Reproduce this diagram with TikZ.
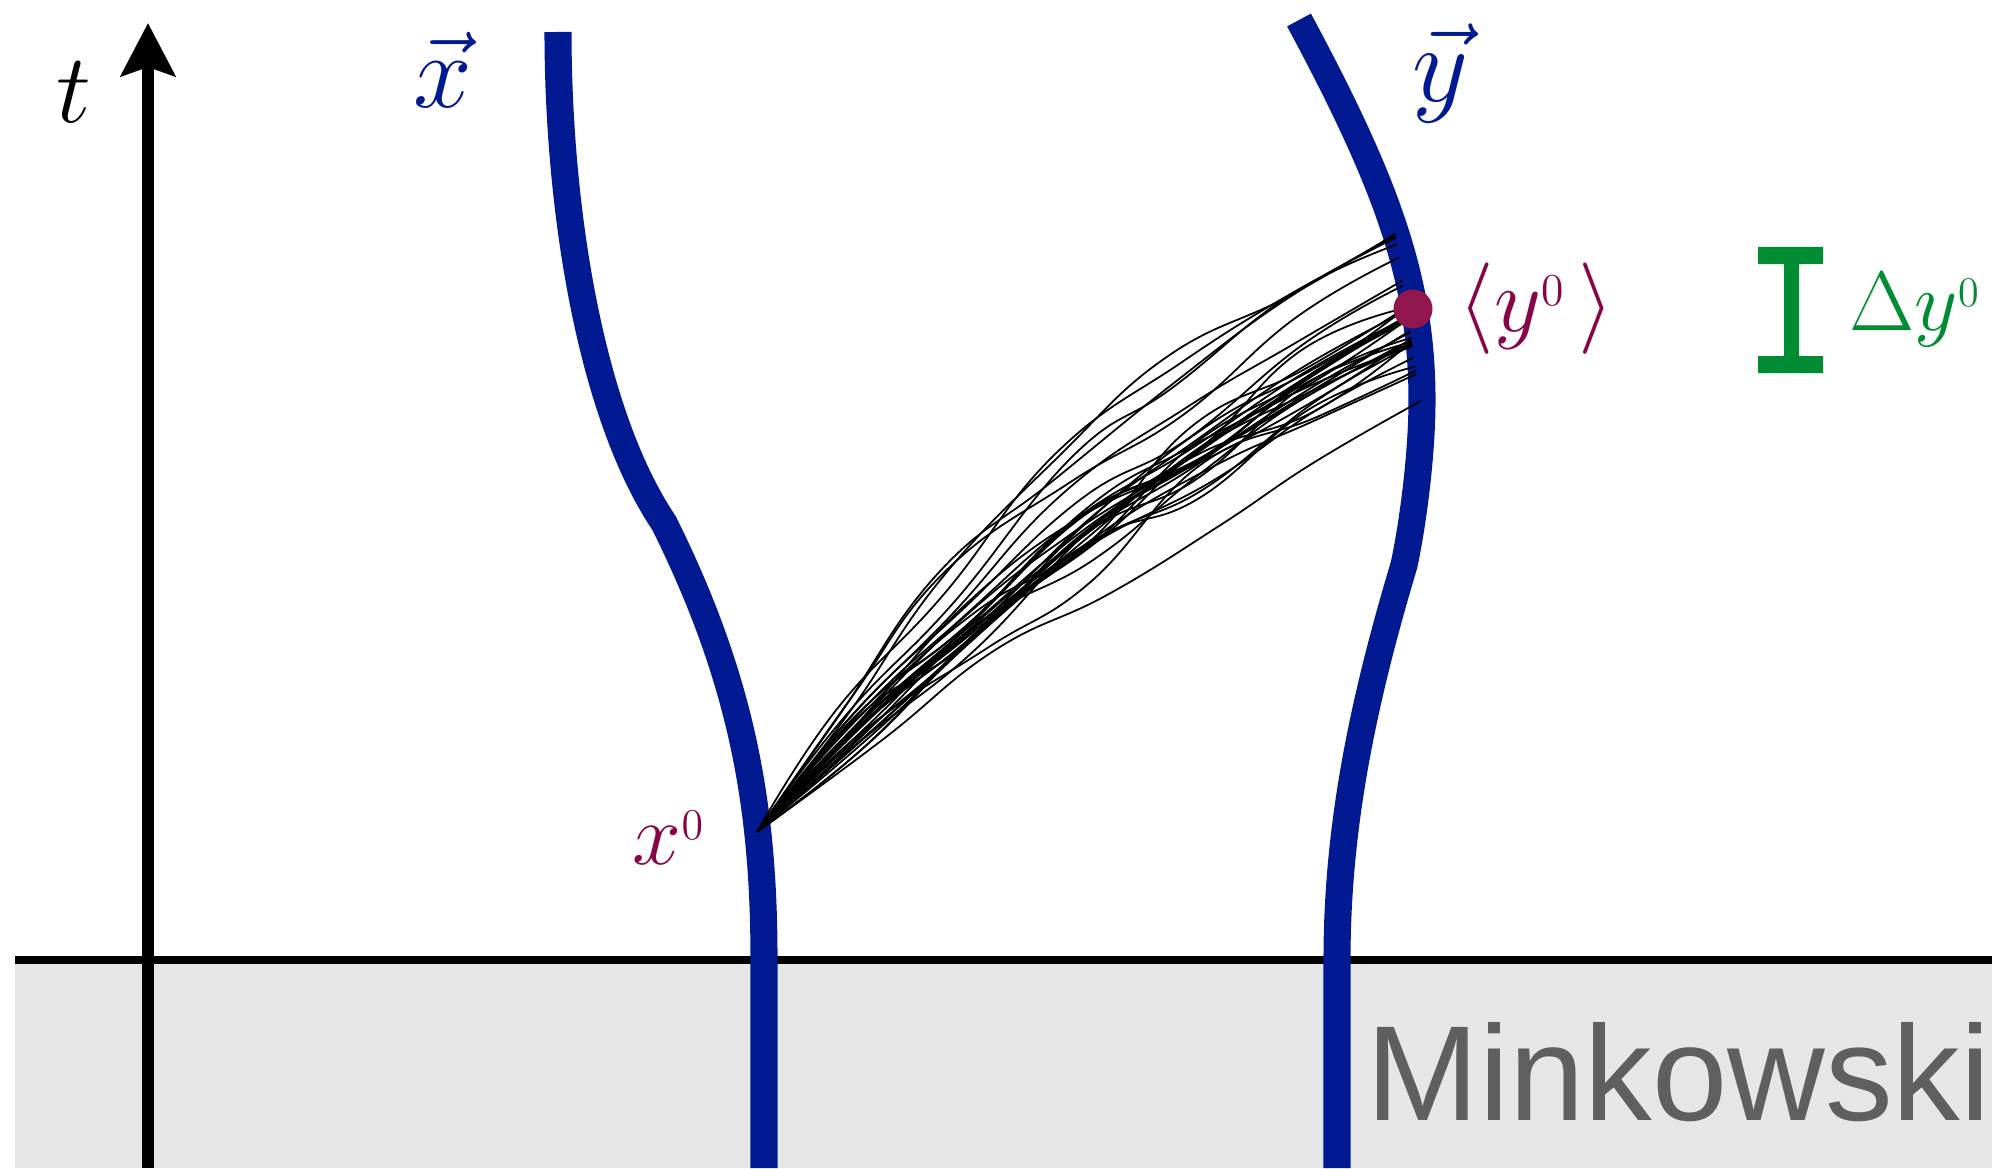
\RequirePackage{fix-cm}
\documentclass[tikz,border=0pt]{standalone}
\usepackage[no-math]{fontspec}
\usepackage{tikz}
\usetikzlibrary{arrows.meta, positioning}
\usepackage{xcolor}
\usepackage{amsmath}
\newfontfamily\minkfont{Liberation Sans}
\definecolor{wlblue}{RGB}{2,26,145}
\definecolor{avgred}{RGB}{146,22,78}
\definecolor{lblred}{RGB}{135,5,70}
\definecolor{dygreen}{RGB}{0,140,50}
\definecolor{minkfill}{RGB}{230,230,230}
\definecolor{minktext}{RGB}{95,95,95}
\newcommand{\lowsup}[1]{\raisebox{0.28em}{$\scriptscriptstyle #1$}}
\tikzstyle{worldline} = [line width=7.7pt, wlblue]
\tikzstyle{timeaxis}  = [line width=3.6pt, -{Stealth[length=5.3mm, width=5.4mm, inset=0.9mm]}]
\tikzstyle{boundary}  = [line width=2.1pt]
\tikzstyle{geodesic}  = [line width=0.5pt, black]
\tikzstyle{lbl}       = [inner sep=0pt, anchor=base west]

\begin{document}
\begin{tikzpicture}

\useasboundingbox (0,0) rectangle (20,11.68);

\fill[minkfill] (0.15,0) rectangle (19.92,2.08);
\coordinate (bleft)  at (0.15,2.08);
\coordinate (bright) at (19.92,2.08);
\draw[boundary] (bleft) -- (bright);

\coordinate (tbase) at (1.48,0);
\coordinate (ttip)  at (1.48,11.45);
\draw[timeaxis] (tbase) -- (ttip);

\draw[worldline] (5.58,11.36) .. controls (5.58,9.6) and (5.9,7.55) .. (6.64,6.45)
  .. controls (7.43,4.86) and (7.64,3.6) .. (7.64,2.08) -- (7.64,0);
\draw[worldline] (12.99,11.48) .. controls (13.85,9.88) and (14.22,8.9) .. (14.22,7.68)
  .. controls (14.22,7.1) and (14.12,6.4) .. (14.04,6.03)
  .. controls (13.62,4.63) and (13.37,3.4) .. (13.37,2.08) -- (13.37,0);

\coordinate (x0) at (7.57,3.36);
\pgfmathsetseed{42}
\foreach \k in {1,...,34}{
  \pgfmathsetmacro{\ye}{mod(\k,2)==0 ? 8.55+0.35*rand : 8.5+0.9*rand}
  \pgfmathsetmacro{\xe}{14.08-0.15*(\ye-8.5)}
  \pgfmathsetmacro{\aout}{49+12*(\ye-8.5)/0.9+4*rand}
  \pgfmathsetmacro{\ain}{25+5*rand}
  \pgfmathsetmacro{\xa}{7.57+3*cos(\aout)}
  \pgfmathsetmacro{\ya}{3.36+3*sin(\aout)}
  \pgfmathsetmacro{\xb}{\xe-2.2*cos(\ain)}
  \pgfmathsetmacro{\yb}{\ye-2.2*sin(\ain)}
  \draw[geodesic] plot[smooth, tension=0.75, variable=\t, samples=7, domain=0:1]
    ({(1-\t)^3*7.57+3*(1-\t)^2*\t*\xa+3*(1-\t)*\t^2*\xb+\t^3*\xe+0.1*rand*sin(180*\t)},
     {(1-\t)^3*3.36+3*(1-\t)^2*\t*\ya+3*(1-\t)*\t^2*\yb+\t^3*\ye+0.26*rand*sin(180*\t)});
}

\node[circle, fill=avgred, minimum size=3.9mm, inner sep=0pt] (ydot) at (14.13,8.59) {};

\fill[dygreen] (17.58,9.04) rectangle (18.23,9.21)
  (17.84,8.12) rectangle (17.99,9.04)
  (17.58,7.95) rectangle (18.23,8.12);

\node[lbl, font=\fontsize{28}{30}\selectfont] (tlbl) at (0.56,10.45) {$t$};
\node[lbl, text=wlblue, font=\fontsize{30}{32}\selectfont] (xlbl) at (4.13,10.60) {$\vec{x}$};
\node[lbl, text=wlblue, font=\fontsize{31}{33}\selectfont] (ylbl) at (14.12,10.67) {$\vec{y}$};
\node[lbl, text=lblred, font=\fontsize{25}{27}\selectfont] (x0lbl) at (6.32,3.04) {$x\lowsup{0}$};
\node[lbl, text=lblred, font=\fontsize{26}{28}\selectfont] (ylbl0) at (14.58,8.37) {$\langle y\lowsup{0}\,\rangle$};
\node[lbl, text=dygreen, font=\fontsize{24}{26}\selectfont] (dylbl) at (18.49,8.38) {$\Delta y\lowsup{0}$};
\node[lbl, text=minktext, font=\minkfont\fontsize{38.5}{40}\selectfont] (mink) at (13.66,0.48) {Minkowski};

\end{tikzpicture}
\end{document}
